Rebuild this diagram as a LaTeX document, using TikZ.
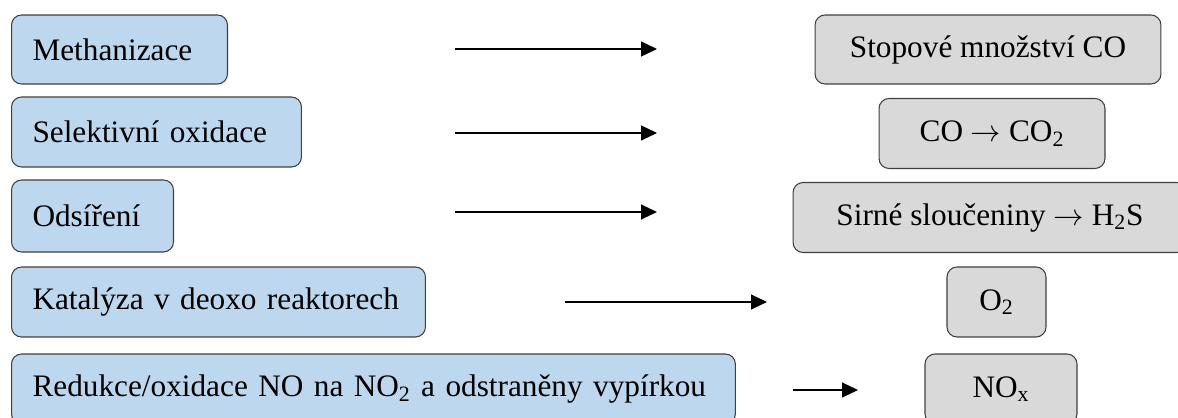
\documentclass[tikz,border=0pt]{standalone}
\usepackage{fontspec}
\setmainfont{Liberation Serif}
\usepackage{tikz}
\usetikzlibrary{
  arrows.meta,
  positioning
}
\definecolor{ink}{HTML}{404040}
\definecolor{method}{HTML}{BDD7EE}
\definecolor{product}{HTML}{D9D9D9}
\newcommand{\chem}[2]{#1\textsubscript{#2}}
\newcommand{\yields}{ $\rightarrow$ }
\tikzset{
  stage/.style={
    -{Triangle[length=0.32cm, width=0.3cm]},
    line width=0.6pt,
    draw=black
  },
  methodbox/.style={
    draw=ink,
    fill=method,
    line width=0.6pt,
    rounded corners=0.2cm,
    anchor=west,
    minimum height=1.4cm,
    inner xsep=0.42cm,
    align=left,
    font=\fontsize{17.8}{22}\selectfont
  },
  productbox/.style={
    draw=ink,
    fill=product,
    line width=0.6pt,
    rounded corners=0.2cm,
    minimum height=1.4cm,
    inner xsep=0pt,
    align=center,
    font=\fontsize{17.8}{22}\selectfont
  }
}

\begin{document}
\begin{tikzpicture}[x=0.02cm, y=-0.02cm]
  \useasboundingbox[fill=white] (0,0) rectangle (1178,418);

  % methods
  \node[methodbox, text width=3.48cm, minimum height=1.38cm] (methan) at (11,49.5) {\mbox{Methanizace}};
  \node[methodbox, text width=4.96cm] (selox) at (11,132) {\mbox{Selektivní oxidace}};
  \node[methodbox, text width=2.4cm, minimum height=1.44cm] (desulf) at (11,216) {\mbox{Odsíření}};
  \node[methodbox, text width=7.44cm] (deoxo) at (11,302) {\mbox{Katalýza v deoxo reaktorech}};
  \node[methodbox, text width=13.64cm] (redox) at (11,389)
    {\mbox{Redukce/oxidace NO na \chem{NO}{2} a odstraněny vypírkou}};

  % products
  \node[productbox, minimum width=6.92cm, minimum height=1.38cm] (traceco) at (988,49.5) {Stopové množství CO};
  \node[productbox, minimum width=4.52cm] (coco2) at (992,133.5) {CO\yields\chem{CO}{2}};
  \node[productbox, minimum width=7.88cm] (sulfur) at (990,217.5) {Sirné sloučeniny\yields\chem{H}{2}S};
  \node[productbox, minimum width=1.98cm] (oxygen) at (996.5,302) {\chem{O}{2}};
  \node[productbox, minimum width=3.04cm] (nox) at (1001,389) {\chem{NO}{x}};

  % arrows
  \coordinate (from1) at (455,49);  \coordinate (to1) at (657,49);
  \coordinate (from2) at (455,133); \coordinate (to2) at (657,133);
  \coordinate (from3) at (455,212); \coordinate (to3) at (657,212);
  \coordinate (from4) at (565,302); \coordinate (to4) at (767,302);
  \coordinate (from5) at (793,390); \coordinate (to5) at (858,390);
  \foreach \i in {1,...,5}
    \draw[stage] (from\i) -- (to\i);
\end{tikzpicture}
\end{document}
